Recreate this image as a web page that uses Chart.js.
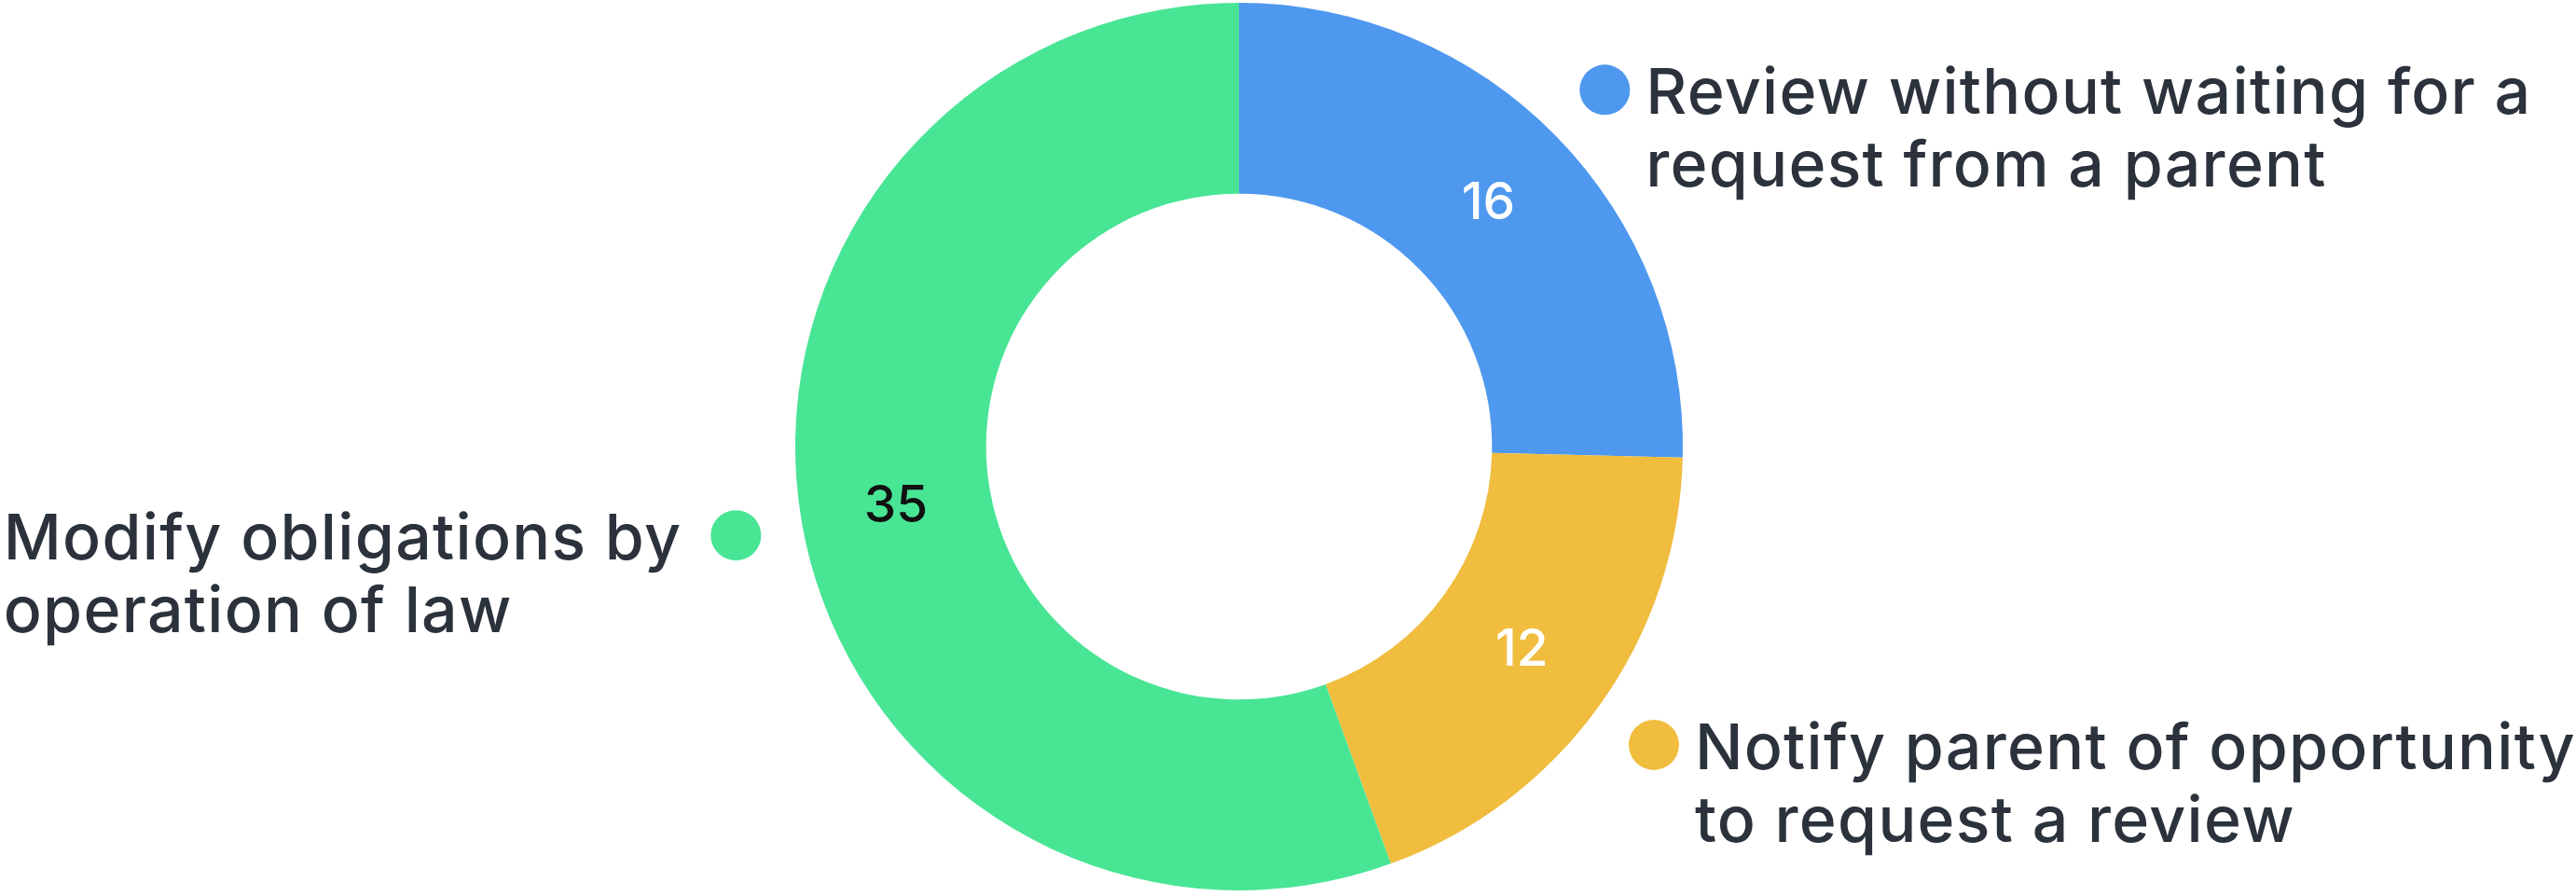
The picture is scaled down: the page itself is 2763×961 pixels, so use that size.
<!DOCTYPE html>
<html>
<head>
<meta charset="utf-8">
<script src="https://cdn.jsdelivr.net/npm/chart.js@4.4.1/dist/chart.umd.min.js"></script>
<style>
  html, body { margin: 0; padding: 0; background: #fff; }
  #wrap { width: 2763px; height: 961px; position: relative; }
</style>
</head>
<body>
<div id="wrap"><canvas id="donut"></canvas></div>
<script>
const labels = [
  ['Review without waiting for a', 'request from a parent'],
  ['Notify parent of opportunity', 'to request a review'],
  ['Modify obligations by', 'operation of law']
];
const values = [16, 12, 35];
const colors = ['#4E98EF', '#F0BD3F', '#48E595'];
const valueColors = ['#ffffff', '#ffffff', '#111111'];

// values drawn in the middle of each slice + labels with a dot outside
const sliceLabels = {
  id: 'sliceLabels',
  afterDatasetsDraw(chart) {
    const ctx = chart.ctx;
    const meta = chart.getDatasetMeta(0);
    meta.data.forEach((arc, i) => {
      const p = arc.getProps(['x', 'y', 'startAngle', 'endAngle', 'outerRadius'], true);
      const c = arc.getCenterPoint();
      ctx.save();
      ctx.font = '500 55px Inter';
      ctx.fillStyle = valueColors[i];
      ctx.textAlign = 'center';
      ctx.textBaseline = 'middle';
      ctx.fillText(values[i], c.x, c.y);

      const mid = (p.startAngle + p.endAngle) / 2;
      const r = p.outerRadius + 72;
      const dx = p.x + Math.cos(mid) * r;
      const dy = p.y + Math.sin(mid) * r;
      ctx.beginPath();
      ctx.arc(dx, dy, 27, 0, Math.PI * 2);
      ctx.fillStyle = colors[i];
      ctx.fill();

      const right = Math.cos(mid) >= 0;
      ctx.font = '500 68px Inter';
      ctx.letterSpacing = '1.3px';
      ctx.fillStyle = '#2B323B';
      ctx.textBaseline = 'alphabetic';
      ctx.textAlign = 'left';
      let tx = dx + 44;
      if (!right) {
        const w = Math.max(...labels[i].map(s => ctx.measureText(s).width));
        tx = dx - 58 - w;
      }
      labels[i].forEach((line, j) => {
        ctx.fillText(line, tx, dy + 26 + j * 78);
      });
      ctx.restore();
    });
  }
};

new Chart(document.getElementById('donut'), {
  type: 'doughnut',
  data: {
    labels: labels,
    datasets: [{
      data: values,
      backgroundColor: colors,
      borderWidth: 0,
      hoverOffset: 0,
      offset: 0
    }]
  },
  options: {
    responsive: true,
    maintainAspectRatio: false,
    animation: false,
    cutout: '57%',
    layout: { padding: { top: 3, bottom: 6, left: 0, right: 105 } },
    plugins: {
      legend: { display: false },
      tooltip: { enabled: false }
    }
  },
  plugins: [sliceLabels]
});
</script>
</body>
</html>
